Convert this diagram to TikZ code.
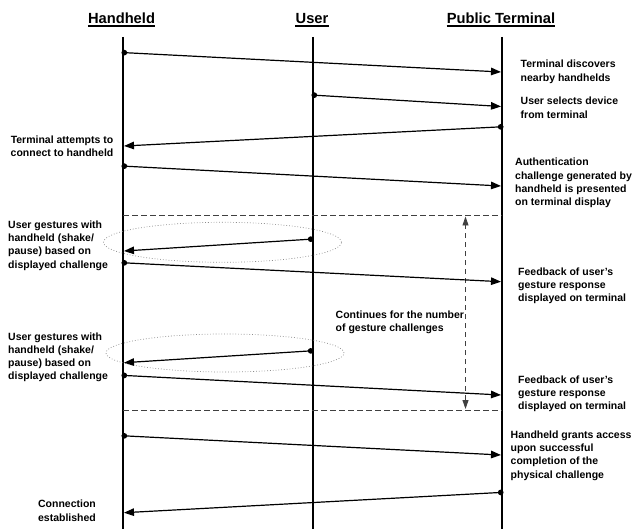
\documentclass[tikz,border=0pt]{standalone}
\usepackage{fontspec}
\setmainfont{Liberation Sans}
\usetikzlibrary{arrows.meta}
\newcommand{\lblfont}{\bfseries\fontsize{10.5}{13.3}\selectfont}
\newcommand{\hdrfont}{\bfseries\fontsize{14.7}{17}\selectfont}
\newcommand{\mlL}[1]{\begin{tabular}[t]{@{}l@{}}#1\end{tabular}}
\newcommand{\mlC}[1]{\begin{tabular}[t]{@{}c@{}}#1\end{tabular}}
\tikzset{
  hdr/.style={font=\hdrfont, inner sep=0pt, anchor=base},
  lbl/.style={font=\lblfont, inner sep=0pt, anchor=base west},
  lblc/.style={font=\lblfont, inner sep=0pt, anchor=base},
  life/.style={line width=2pt},
  uline/.style={line width=1.1pt},
  msg/.style={line width=1.2pt, {Circle[length=5.6pt]}-{Triangle[length=10pt,width=7.5pt]}},
  sepline/.style={line width=0.9pt, black!75, dash pattern=on 5.5pt off 3.5pt},
  looparrow/.style={line width=0.9pt, black!75, dash pattern=on 5.5pt off 3.5pt,
     {Triangle[length=9pt,width=6pt]}-{Triangle[length=9pt,width=6pt]}},
  ring/.style={draw=black!45, line width=0.7pt, dash pattern=on 0.8pt off 2pt}
}
\begin{document}
\begin{tikzpicture}[x=1pt,y=-1pt]
\useasboundingbox (0,0) rectangle (634,529);
% headers
\node[hdr] (hh) at (121.5,24) {Handheld};
\node[hdr] (hu) at (312,24) {User};
\node[hdr] (ht) at (501,24) {Public Terminal};
\foreach \n in {hh,hu,ht}
  \draw[uline] ([yshift=-2pt]\n.base west) -- ([yshift=-2pt]\n.base east);
% lifelines
\coordinate (Htop) at (123,37);  \coordinate (Hbot) at (123,529);
\coordinate (Utop) at (312.5,37);\coordinate (Ubot) at (312.5,529);
\coordinate (Ttop) at (502,37);  \coordinate (Tbot) at (502,529);
\draw[life] (Htop) -- (Hbot);
\draw[life] (Utop) -- (Ubot);
\draw[life] (Ttop) -- (Tbot);
% message end points
\coordinate (m1a) at (121.5,52.5);  \coordinate (m1b) at (501,72);
\coordinate (m2a) at (311.5,95);    \coordinate (m2b) at (501,106.5);
\coordinate (m3a) at (503.5,126.7); \coordinate (m3b) at (124,146);
\coordinate (m4a) at (121.5,166);   \coordinate (m4b) at (501,186);
\coordinate (m5a) at (313.5,239);   \coordinate (m5b) at (124,251);
\coordinate (m6a) at (121.5,262.7); \coordinate (m6b) at (501,281.7);
\coordinate (m7a) at (313.5,350.7); \coordinate (m7b) at (124,362.7);
\coordinate (m8a) at (121.5,375.3); \coordinate (m8b) at (501,395);
\coordinate (m9a) at (121.5,435.7); \coordinate (m9b) at (501,455);
\coordinate (m10a) at (503.5,492.3);\coordinate (m10b) at (124,512.7);
% loop frame
\coordinate (s1a) at (123,215.5); \coordinate (s1b) at (502,215.5);
\coordinate (s2a) at (123,410);   \coordinate (s2b) at (502,410);
\coordinate (va) at (465.5,216.5); \coordinate (vb) at (465.5,409);
\draw[sepline] (s1a) -- (s1b);
\draw[sepline] (s2a) -- (s2b);
\draw[looparrow] (vb) -- (va);
% ellipses
\draw[ring] (222.5,242.3) ellipse [x radius=119pt, y radius=20pt];
\draw[ring] (225,353) ellipse [x radius=119pt, y radius=19pt];
% messages
\draw[msg] (m1a) -- (m1b);
\draw[msg] (m2a) -- (m2b);
\draw[msg] (m3a) -- (m3b);
\draw[msg] (m4a) -- (m4b);
\draw[msg] (m5a) -- (m5b);
\draw[msg] (m6a) -- (m6b);
\draw[msg] (m7a) -- (m7b);
\draw[msg] (m8a) -- (m8b);
\draw[msg] (m9a) -- (m9b);
\draw[msg] (m10a) -- (m10b);
% labels
\node[lbl] (l1) at (520.5,68) {\mlL{Terminal discovers\\nearby handhelds}};
\node[lbl] (l2) at (520.5,105) {\mlL{User selects device\\from terminal}};
\node[lblc] (l3) at (62,143.3) {\mlC{Terminal attempts to\\connect to handheld}};
\node[lbl] (l4) at (515,166) {\mlL{Authentication\\challenge generated by\\handheld is presented\\on terminal display}};
\node[lbl] (l5) at (8,228.3) {\mlL{User gestures with\\handheld (shake/\\pause) based on\\displayed challenge}};
\node[lbl] (l6) at (518,275.3) {\mlL{Feedback of user's\\gesture response\\displayed on terminal}};
\node[lbl] (l7) at (335.5,318.3) {\mlL{Continues for the number\\of gesture challenges}};
\node[lbl] (l8) at (8,340) {\mlL{User gestures with\\handheld (shake/\\pause) based on\\displayed challenge}};
\node[lbl] (l9) at (518,383) {\mlL{Feedback of user's\\gesture response\\displayed on terminal}};
\node[lbl] (l10) at (510.5,438.3) {\mlL{Handheld grants access\\upon successful\\completion of the\\physical challenge}};
\node[lblc] (l11) at (67,507.7) {\mlC{Connection\\established}};
\end{tikzpicture}
\end{document}
